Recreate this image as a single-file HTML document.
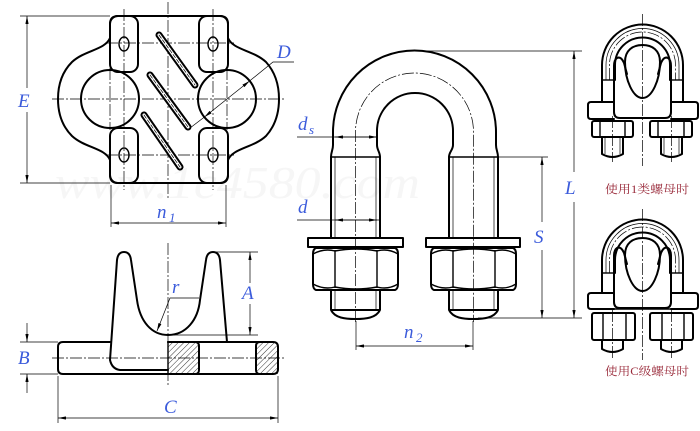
<!DOCTYPE html>
<html><head><meta charset="utf-8"><style>
html,body{margin:0;padding:0;background:#fff;}
svg{display:block;}
.k{fill:none;stroke:#000;stroke-width:2;stroke-linejoin:round;stroke-linecap:round;}
.m{fill:none;stroke:#000;stroke-width:1.4;}
.t{fill:none;stroke:#000;stroke-width:0.7;}
.c{fill:none;stroke:#000;stroke-width:0.7;stroke-dasharray:12 2 2 2;}
.lb{font-family:"Liberation Serif",serif;font-style:italic;font-size:19px;fill:#3b5bdb;}
.sb{font-family:"Liberation Serif",serif;font-style:italic;font-size:13px;fill:#3b5bdb;}
.cn{font-family:"Liberation Serif","Noto Serif CJK SC",serif;font-size:11.5px;fill:#9a2b3b;}
</style></head><body>
<svg width="700" height="431" viewBox="0 0 700 431" xmlns="http://www.w3.org/2000/svg">
<defs>
<marker id="ar" viewBox="0 0 10 4" refX="10" refY="2" markerWidth="9" markerHeight="3.2" orient="auto-start-reverse" markerUnits="userSpaceOnUse"><path d="M0,0L10,2L0,4Z" fill="#000"/></marker>
<pattern id="h" width="4" height="4" patternUnits="userSpaceOnUse" patternTransform="rotate(45)"><line x1="0" y1="0" x2="0" y2="4" stroke="#000" stroke-width="0.8"/></pattern>
</defs>

<!-- watermark -->
<text x="55" y="198" font-family="Liberation Serif,serif" font-style="italic" font-size="46" fill="#f6f6f6" textLength="365" lengthAdjust="spacingAndGlyphs">www.1c4580.com</text>

<!-- ===== TOP-LEFT PLAN VIEW ===== -->
<line class="c" x1="168" y1="2" x2="168" y2="200"/>
<line class="c" x1="52" y1="99" x2="285" y2="99"/>
<line class="c" x1="124" y1="9" x2="124" y2="190"/>
<line class="c" x1="213" y1="9" x2="213" y2="190"/>
<line class="c" x1="106" y1="43" x2="234" y2="43"/>
<line class="c" x1="106" y1="155" x2="234" y2="155"/>
<line class="c" x1="110" y1="68" x2="110" y2="130"/>
<line class="c" x1="227" y1="68" x2="227" y2="130"/>

<path class="k" d="M118,16 L220,16 Q228,16 228,24 L228,38 C233,50 253,50 266,62 C275,72 279,85 279,99 C279,113 275,126 266,136 C253,148 233,148 228,160 L228,175 Q228,183 220,183 L118,183 Q110,183 110,175 L110,160 C105,148 85,148 72,136 C62,126 58,113 58,99 C58,85 62,72 72,62 C85,50 105,50 110,38 L110,24 Q110,16 118,16 Z"/>
<rect class="k" x="110" y="16" width="28" height="56" rx="8"/>
<rect class="k" x="199" y="16" width="29" height="56" rx="8"/>
<rect class="k" x="110" y="128" width="28" height="55" rx="8"/>
<rect class="k" x="199" y="128" width="29" height="55" rx="8"/>
<ellipse class="m" cx="124" cy="44" rx="5" ry="7"/>
<ellipse class="m" cx="213" cy="44" rx="5" ry="7"/>
<ellipse class="m" cx="124" cy="155" rx="5" ry="7"/>
<ellipse class="m" cx="213" cy="155" rx="5" ry="7"/>
<circle class="k" cx="110" cy="99" r="29"/>
<circle class="k" cx="227" cy="99" r="29"/>
<!-- diagonal slots -->
<g stroke-linecap="round">
<line x1="159" y1="35" x2="195" y2="85" stroke="#000" stroke-width="7"/>
<line x1="159" y1="35" x2="195" y2="85" stroke="#fff" stroke-width="3"/>
<line x1="159" y1="35" x2="195" y2="85" stroke="#000" stroke-width="0.7" stroke-dasharray="4 2"/>
<line x1="150" y1="75" x2="188" y2="127" stroke="#000" stroke-width="7"/>
<line x1="150" y1="75" x2="188" y2="127" stroke="#fff" stroke-width="3"/>
<line x1="150" y1="75" x2="188" y2="127" stroke="#000" stroke-width="0.7" stroke-dasharray="4 2"/>
<line x1="144" y1="115" x2="180" y2="167" stroke="#000" stroke-width="7"/>
<line x1="144" y1="115" x2="180" y2="167" stroke="#fff" stroke-width="3"/>
<line x1="144" y1="115" x2="180" y2="167" stroke="#000" stroke-width="0.7" stroke-dasharray="4 2"/>
</g>
<!-- E dim -->
<line class="t" x1="20" y1="16" x2="110" y2="16"/>
<line class="t" x1="20" y1="183" x2="110" y2="183"/>
<line class="t" x1="27" y1="88" x2="27" y2="16" marker-end="url(#ar)"/>
<line class="t" x1="27" y1="112" x2="27" y2="183" marker-end="url(#ar)"/>
<text class="lb" x="18" y="107">E</text>
<!-- D leader -->
<line class="t" x1="204.3" y1="117.1" x2="249.7" y2="80.9" marker-start="url(#ar)" marker-end="url(#ar)"/>
<polyline class="t" points="190,128 204.3,117.1"/>
<polyline class="t" points="249.7,80.9 273,62 294,62"/>
<text class="lb" x="277" y="58">D</text>
<!-- n1 dim -->
<line class="t" x1="111" y1="185" x2="111" y2="227"/>
<line class="t" x1="226" y1="185" x2="226" y2="227"/>
<line class="t" x1="111" y1="223" x2="226" y2="223" marker-start="url(#ar)" marker-end="url(#ar)"/>
<text class="lb" x="157" y="218">n</text><text class="sb" x="169" y="222">1</text>

<!-- ===== BOTTOM-LEFT SIDE VIEW ===== -->
<line class="c" x1="168" y1="243" x2="168" y2="386"/>
<line class="c" x1="52" y1="358" x2="285" y2="358"/>
<path d="M168,342 L195,342 Q199,342 199,346 L199,370 Q199,374 195,374 L168,374 Z" fill="url(#h)"/>
<path d="M260,342 L278,342 L278,374 L260,374 Q256,374 256,370 L256,346 Q256,342 260,342 Z" fill="url(#h)"/>
<path class="k" d="M110,342 L63,342 Q58,342 58,347 L58,369 Q58,374 63,374 L273,374 Q278,374 278,369 L278,347 Q278,342 273,342 L168,342"/>
<path class="k" d="M168,342 L195,342 Q199,342 199,346 L199,370 Q199,374 195,374"/>
<path class="k" d="M260,342 Q256,342 256,346 L256,370 Q256,374 260,374"/>
<line class="m" x1="168" y1="342" x2="168" y2="374"/>
<path class="k" d="M168,370 L120,370 Q112,369 110,360 L117,260 Q118,252 124,252 Q130,252 131,260 L137,300 C140,322 152,335 168,335 C186,335 198,320 200,300 L206,260 Q207,252 213,252 Q219,252 220,260 L227,342"/>
<line class="t" x1="168" y1="335" x2="258" y2="335"/>
<line class="t" x1="216" y1="252" x2="258" y2="252"/>
<line class="t" x1="250" y1="283" x2="250" y2="252" marker-end="url(#ar)"/>
<line class="t" x1="250" y1="304" x2="250" y2="335" marker-end="url(#ar)"/>
<text class="lb" x="242" y="299">A</text>
<polyline class="t" points="199,298 170,298 157,331" marker-end="url(#ar)"/>
<text class="lb" x="172" y="293">r</text>
<!-- B -->
<line class="t" x1="20" y1="342" x2="58" y2="342"/>
<line class="t" x1="20" y1="374" x2="58" y2="374"/>
<line class="t" x1="27" y1="323" x2="27" y2="342" marker-end="url(#ar)"/>
<line class="t" x1="27" y1="393" x2="27" y2="374" marker-end="url(#ar)"/>
<text class="lb" x="18" y="364">B</text>
<!-- C -->
<line class="t" x1="58" y1="376" x2="58" y2="423"/>
<line class="t" x1="278" y1="376" x2="278" y2="423"/>
<line class="t" x1="58" y1="418" x2="278" y2="418" marker-start="url(#ar)" marker-end="url(#ar)"/>
<text class="lb" x="164" y="413">C</text>

<!-- ===== U-BOLT VIEW ===== -->
<path class="c" d="M355.5,322 L355.5,132 A59,59 0 0 1 473.5,132 L473.5,322"/>
<path class="k" d="M331,157 C331,152 333,150 333,145 L333,132 A81.5,81.5 0 0 1 496,132 L496,145 C496,150 498,152 498,157"/>
<path class="k" d="M380,157 C380,152 377,150 377,145 L377,131 A38,38 0 0 1 453,131 L453,145 C453,150 449,152 449,157"/>
<line class="m" x1="331" y1="157" x2="380" y2="157"/>
<line class="m" x1="449" y1="157" x2="498" y2="157"/>
<g class="k">
<line x1="331" y1="157" x2="331" y2="238"/><line x1="380" y1="157" x2="380" y2="238"/>
<line x1="449" y1="157" x2="449" y2="238"/><line x1="498" y1="157" x2="498" y2="238"/>
</g>
<g class="t">
<line x1="335" y1="157" x2="335" y2="238"/><line x1="376" y1="157" x2="376" y2="238"/>
<line x1="453" y1="157" x2="453" y2="238"/><line x1="494" y1="157" x2="494" y2="238"/>
</g>
<rect class="k" x="308" y="238" width="95" height="9"/>
<rect class="k" x="426" y="238" width="94" height="9"/>
<!-- nuts -->
<g class="k">
<path d="M316,248 L395,248 Q398,249 398,254 L398,284 Q398,289 395,290 L316,290 Q313,289 313,284 L313,254 Q313,249 316,248 Z"/>
<path d="M434,248 L513,248 Q516,249 516,254 L516,284 Q516,289 513,290 L434,290 Q431,289 431,284 L431,254 Q431,249 434,248 Z"/>
</g>
<g class="m">
<line x1="335" y1="250" x2="335" y2="288"/><line x1="377" y1="250" x2="377" y2="288"/>
<line x1="453" y1="250" x2="453" y2="288"/><line x1="495" y1="250" x2="495" y2="288"/>
<path d="M313,254 Q324,248 335,251 Q356,247 377,251 Q388,248 398,254"/>
<path d="M313,284 Q324,290 335,287 Q356,291 377,287 Q388,290 398,284"/>
<path d="M431,254 Q442,248 453,251 Q474,247 495,251 Q506,248 516,254"/>
<path d="M431,284 Q442,290 453,287 Q474,291 495,287 Q506,290 516,284"/>
</g>
<!-- bolt ends -->
<path class="k" d="M331,290 L331,310 C335,318 345,319 355.5,319 C366,319 376,318 380,310 L380,290 M331,310 L380,310"/>
<path class="k" d="M449,290 L449,310 C453,318 463,319 473.5,319 C484,319 494,318 498,310 L498,290 M449,310 L498,310"/>
<g class="t">
<line x1="335" y1="290" x2="335" y2="310"/><line x1="376" y1="290" x2="376" y2="310"/>
<line x1="453" y1="290" x2="453" y2="310"/><line x1="494" y1="290" x2="494" y2="310"/>
</g>
<!-- L, S dims -->
<line class="t" x1="414" y1="51" x2="582" y2="51"/>
<line class="t" x1="494" y1="157" x2="548" y2="157"/>
<line class="t" x1="478" y1="318" x2="582" y2="318"/>
<line class="t" x1="574" y1="172" x2="574" y2="51" marker-end="url(#ar)"/>
<line class="t" x1="574" y1="202" x2="574" y2="318" marker-end="url(#ar)"/>
<text class="lb" x="565" y="194">L</text>
<line class="t" x1="542" y1="222" x2="542" y2="157" marker-end="url(#ar)"/>
<line class="t" x1="542" y1="250" x2="542" y2="318" marker-end="url(#ar)"/>
<text class="lb" x="534" y="243">S</text>
<!-- ds, d -->
<line class="t" x1="297" y1="137" x2="377" y2="137"/>
<line class="t" x1="356" y1="137" x2="335" y2="137" marker-end="url(#ar)"/>
<line class="t" x1="356" y1="137" x2="377" y2="137" marker-end="url(#ar)"/>
<text class="lb" x="298" y="130">d</text><text class="sb" x="309" y="134">s</text>
<line class="t" x1="297" y1="220" x2="380" y2="220"/>
<line class="t" x1="356" y1="220" x2="335" y2="220" marker-end="url(#ar)"/>
<line class="t" x1="356" y1="220" x2="377" y2="220" marker-end="url(#ar)"/>
<text class="lb" x="298" y="213">d</text>
<!-- n2 -->
<line class="t" x1="356" y1="321" x2="356" y2="350"/>
<line class="t" x1="473" y1="321" x2="473" y2="350"/>
<line class="t" x1="356" y1="346" x2="473" y2="346" marker-start="url(#ar)" marker-end="url(#ar)"/>
<text class="lb" x="404" y="338">n</text><text class="sb" x="416" y="342">2</text>

<!-- ===== SMALL VIEW 1 ===== -->
<line class="c" x1="642.5" y1="14" x2="642.5" y2="166"/>
<path class="k" d="M602,102 L602,65 A40.5,40.5 0 0 1 683,65 L683,102"/>
<path class="t" d="M606,80 L606,65 A36.5,36.5 0 0 1 679,65 L679,80"/>
<path class="c" d="M609.5,80 L609.5,65 A33,33 0 0 1 675.5,65 L675.5,80"/>
<path class="k" d="M615,80 L615,65 A27.5,27.5 0 0 1 670,65 L670,80"/>
<line class="m" x1="602" y1="80" x2="615" y2="80"/>
<line class="m" x1="670" y1="80" x2="683" y2="80"/>
<path class="k" d="M625,62 C625,50 633,45 642.5,45 C652,45 660,50 660,62 C660,80 652,98 642.5,98 C633,98 625,80 625,62 Z"/>
<path class="k" d="M627,74 L624,63 Q621,56 617,58 Q614,60 614,66 L614,112 Q614,118 620,118 L665,118 Q671,118 671,112 L671,66 Q671,60 668,58 Q664,56 661,63 L658,74"/>
<path class="k" d="M614,102 L591,102 Q588,102 588,105 L588,116 Q588,119 591,119 L614,119 M671,102 L695,102 Q698,102 698,105 L698,116 Q698,119 695,119 L671,119"/>
<rect class="k" x="592" y="121" width="41" height="16" rx="2"/>
<rect class="k" x="650" y="121" width="42" height="16" rx="2"/>
<g class="m"><line x1="600" y1="122" x2="600" y2="136"/><line x1="625" y1="122" x2="625" y2="136"/><line x1="658" y1="122" x2="658" y2="136"/><line x1="684" y1="122" x2="684" y2="136"/></g>
<path class="k" d="M602,137 L602,154 Q612.5,160 623,154 L623,137 M661,137 L661,154 Q671.5,160 682,154 L682,137"/>
<g class="t"><line x1="605" y1="137" x2="605" y2="154"/><line x1="620" y1="137" x2="620" y2="154"/><line x1="664" y1="137" x2="664" y2="154"/><line x1="679" y1="137" x2="679" y2="154"/></g>
<line class="c" x1="612.5" y1="116" x2="612.5" y2="162"/>
<line class="c" x1="671.5" y1="116" x2="671.5" y2="162"/>
<text class="cn" x="605" y="193" textLength="84" lengthAdjust="spacingAndGlyphs">使用1类螺母时</text>

<!-- ===== SMALL VIEW 2 ===== -->
<line class="c" x1="642.5" y1="209" x2="642.5" y2="360"/>
<path class="k" d="M602,293 L602,260 A40.5,40.5 0 0 1 683,260 L683,293"/>
<path class="t" d="M606,273 L606,260 A36.5,36.5 0 0 1 679,260 L679,273"/>
<path class="c" d="M609.5,273 L609.5,260 A33,33 0 0 1 675.5,260 L675.5,273"/>
<path class="k" d="M615,273 L615,260 A27.5,27.5 0 0 1 670,260 L670,273"/>
<line class="m" x1="602" y1="273" x2="615" y2="273"/>
<line class="m" x1="670" y1="273" x2="683" y2="273"/>
<path class="k" d="M625,255 C625,243 633,238 642.5,238 C652,238 660,243 660,255 C660,273 652,291 642.5,291 C633,291 625,273 625,255 Z"/>
<path class="k" d="M627,264 L624,253 Q621,246 617,248 Q614,250 614,256 L614,302 Q614,308 620,308 L665,308 Q671,308 671,302 L671,256 Q671,250 668,248 Q664,246 661,253 L658,264"/>
<path class="k" d="M614,293 L591,293 Q588,293 588,296 L588,306 Q588,309 591,309 L614,309 M671,293 L695,293 Q698,293 698,296 L698,306 Q698,309 695,309 L671,309"/>
<line class="m" x1="614" y1="309" x2="671" y2="309"/>
<rect class="k" x="592" y="313" width="43" height="27" rx="2"/>
<rect class="k" x="650" y="313" width="43" height="27" rx="2"/>
<g class="m"><line x1="603" y1="314" x2="603" y2="339"/><line x1="626" y1="314" x2="626" y2="339"/><line x1="662" y1="314" x2="662" y2="339"/><line x1="684" y1="314" x2="684" y2="339"/></g>
<path class="k" d="M602,340 L602,349 Q612.5,355 623,349 L623,340 M661,340 L661,349 Q671.5,355 682,349 L682,340"/>
<line class="c" x1="612.5" y1="310" x2="612.5" y2="358"/>
<line class="c" x1="671.5" y1="310" x2="671.5" y2="358"/>
<text class="cn" x="605" y="375" textLength="84" lengthAdjust="spacingAndGlyphs">使用C级螺母时</text>
</svg>
</body></html>
